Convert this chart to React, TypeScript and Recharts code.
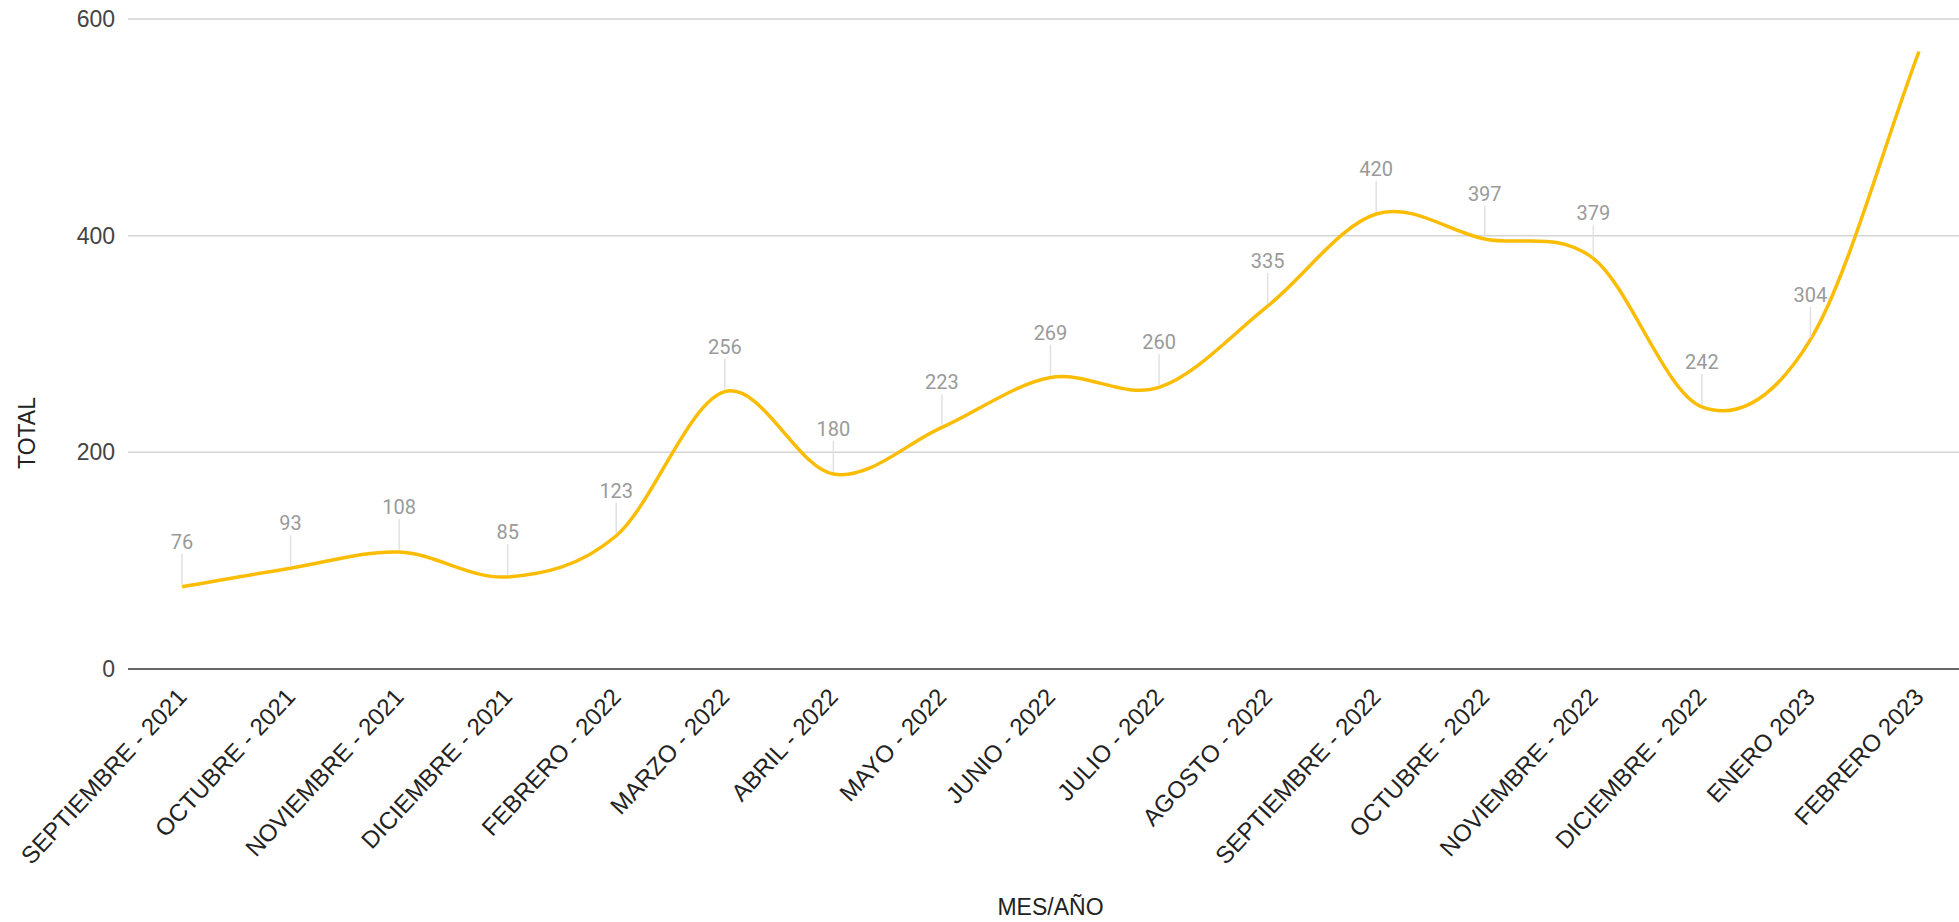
import React from 'react';
import { LineChart, Line, XAxis, YAxis, CartesianGrid, LabelList, Label } from 'recharts';

const months = [
  'SEPTIEMBRE - 2021', 'OCTUBRE - 2021', 'NOVIEMBRE - 2021', 'DICIEMBRE - 2021',
  'FEBRERO - 2022', 'MARZO - 2022', 'ABRIL - 2022', 'MAYO - 2022', 'JUNIO - 2022',
  'JULIO - 2022', 'AGOSTO - 2022', 'SEPTIEMBRE - 2022', 'OCTUBRE - 2022',
  'NOVIEMBRE - 2022', 'DICIEMBRE - 2022', 'ENERO 2023', 'FEBRERO 2023',
];
const totals = [76, 93, 108, 85, 123, 256, 180, 223, 269, 260, 335, 420, 397, 379, 242, 304, 570];
const yTicks = [0, 200, 400, 600];

const data = months.map((m, i) => ({
  month: m,
  total: totals[i],
  label: i < totals.length - 1 ? totals[i] : null,
}));

// Catmull-Rom style smoothing (similar to Google Sheets "smooth" lines)
const smoothCurve = (context: any) => {
  let pts: [number, number][] = [];
  return {
    areaStart() {},
    areaEnd() {},
    lineStart() {
      pts = [];
    },
    point(x: number, y: number) {
      pts.push([+x, +y]);
    },
    lineEnd() {
      const n = pts.length;
      if (n === 0) return;
      context.moveTo(pts[0][0], pts[0][1]);
      if (n === 1) return;
      const tan = (i: number) => {
        const a = pts[Math.max(0, i - 1)];
        const b = pts[Math.min(n - 1, i + 1)];
        const k = i === 0 || i === n - 1 ? 1 : 0.5;
        return [(b[0] - a[0]) * k, (b[1] - a[1]) * k];
      };
      for (let i = 0; i < n - 1; i++) {
        const m0 = tan(i);
        const m1 = tan(i + 1);
        context.bezierCurveTo(
          pts[i][0] + m0[0] / 3, pts[i][1] + m0[1] / 3,
          pts[i + 1][0] - m1[0] / 3, pts[i + 1][1] - m1[1] / 3,
          pts[i + 1][0], pts[i + 1][1],
        );
      }
    },
  };
};

const AXIS_FONT = 'Arial, "Liberation Sans", sans-serif';

const XTick = (props: any) => {
  const { x, y, payload } = props;
  return (
    <g transform={`translate(${x + 6},${y + 29})`}>
      <text
        x={0}
        y={0}
        textAnchor="end"
        transform="rotate(-47)"
        fontSize={24}
        fontFamily={AXIS_FONT}
        fill="#222"
      >
        {payload.value}
      </text>
    </g>
  );
};

const DataLabel = (props: any) => {
  const { x, y, value } = props;
  if (value === null || value === undefined) return null;
  return (
    <g>
      <line x1={x} x2={x} y1={y - 33} y2={y - 2} stroke="#e0e0e0" strokeWidth={1.5} />
      <text
        x={x}
        y={y - 38}
        textAnchor="middle"
        fontSize={20}
        fontFamily="Roboto, sans-serif"
        fill="#9a9a9a"
      >
        {value}
      </text>
    </g>
  );
};

export default function App() {
  return (
    <div
      style={{
        position: 'absolute',
        left: 0,
        top: 0,
        width: 1959,
        height: 922,
        overflow: 'hidden',
        background: '#fff',
      }}
    >
      <LineChart
        width={1973}
        height={922}
        data={data}
        margin={{ top: 19, right: 0, bottom: 0, left: 0 }}
      >
        <CartesianGrid vertical={false} stroke="#d4d4d4" strokeWidth={1.5} />
        <XAxis
          dataKey="month"
          height={253}
          interval={0}
          padding={{ left: 54, right: 54 }}
          tickSize={0}
          tickMargin={0}
          tickLine={false}
          axisLine={{ stroke: '#666', strokeWidth: 2 }}
          tick={<XTick />}
        >
          <Label
            content={(p: any) => {
              const vb = p.viewBox;
              return (
                <text
                  x={vb.x + vb.width / 2}
                  y={vb.y + 246}
                  textAnchor="middle"
                  fontSize={23}
                  fontFamily={AXIS_FONT}
                  fill="#222"
                >
                  MES/AÑO
                </text>
              );
            }}
          />
        </XAxis>
        <YAxis
          width={128}
          domain={[0, 600]}
          ticks={yTicks}
          tickSize={0}
          tickMargin={13}
          axisLine={false}
          tickLine={false}
          tick={{ fontSize: 23, fontFamily: AXIS_FONT, fill: '#444' }}
        >
          <Label
            content={(p: any) => {
              const vb = p.viewBox;
              const cx = vb.x + 27;
              const cy = vb.y + vb.height / 2 + 89;
              return (
                <text
                  x={cx}
                  y={cy}
                  transform={`rotate(-90, ${cx}, ${cy})`}
                  textAnchor="middle"
                  dominantBaseline="central"
                  fontSize={23}
                  fontFamily={AXIS_FONT}
                  fill="#222"
                >
                  TOTAL
                </text>
              );
            }}
          />
        </YAxis>
        <Line
          dataKey="total"
          type={smoothCurve as any}
          stroke="#FBBC04"
          strokeWidth={3.5}
          dot={false}
          activeDot={false}
          isAnimationActive={false}
        >
          <LabelList dataKey="label" content={<DataLabel />} />
        </Line>
      </LineChart>
    </div>
  );
}
